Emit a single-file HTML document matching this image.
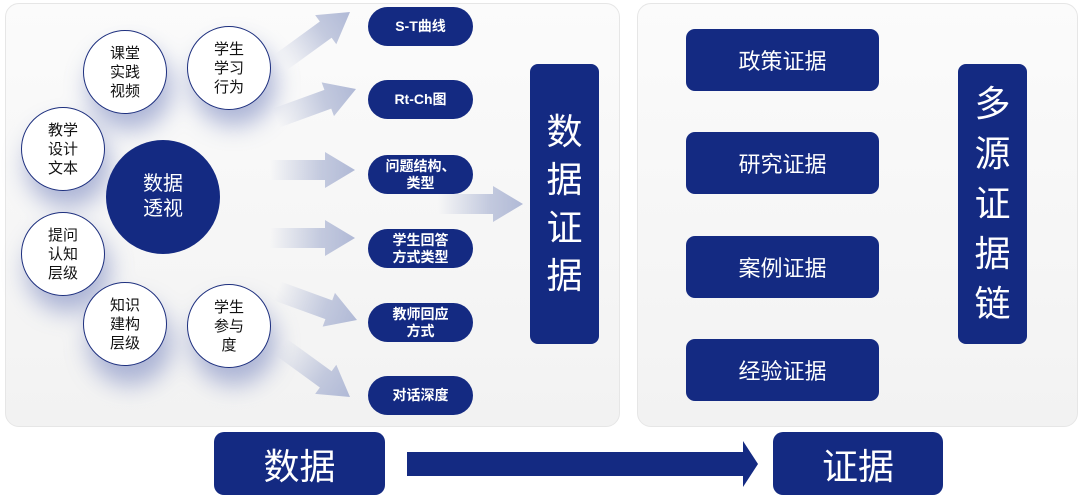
<!DOCTYPE html>
<html><head><meta charset="utf-8"><style>
body{margin:0;width:1080px;height:498px;background:#fff;position:relative;overflow:hidden;font-family:"Liberation Sans","Noto Sans CJK SC",sans-serif}
.panel{position:absolute;background:linear-gradient(#fbfbfb,#f2f2f2);border:1px solid #e6e6e6;border-radius:14px}
.n{position:absolute;background:#142a82;color:#fff;display:flex;align-items:center;justify-content:center;text-align:center;box-sizing:border-box}
.pill{left:368px;width:105px;height:39px;border-radius:20px;font-size:14px;line-height:17px;font-weight:bold}
.c{position:absolute;width:84px;height:84px;border-radius:50%;background:#fff;border:1.5px solid #1d2f7e;box-sizing:border-box;display:flex;align-items:center;justify-content:center;text-align:center;font-size:15px;line-height:19px;color:#111}
.rb{left:686px;width:193px;height:62px;border-radius:9px;font-size:22px}
</style></head><body>
<div class="panel" style="left:5px;top:3px;width:613px;height:422px"></div>
<div class="panel" style="left:637px;top:3px;width:439px;height:422px"></div>
<svg width="1080" height="498" style="position:absolute;left:0;top:0">
<defs>
<linearGradient id="g" x1="0" x2="1"><stop offset="0" stop-color="#b6bed8" stop-opacity="0"/><stop offset="0.6" stop-color="#b6bed8" stop-opacity="0.8"/><stop offset="1" stop-color="#b0b9d6"/></linearGradient>
<g id="a"><polygon points="-85,-10 -30,-10 -30,-18 0,0 -30,18 -30,10 -85,10" fill="url(#g)"/></g>
<filter id="b"><feGaussianBlur stdDeviation="12"/></filter>
</defs>
<g filter="url(#b)" fill="#8c98c8" opacity="0.7">
<circle cx="130" cy="88" r="42"/><circle cx="234" cy="84" r="42"/><circle cx="68" cy="165" r="42"/>
<circle cx="68" cy="270" r="42"/><circle cx="130" cy="343" r="42"/><circle cx="234" cy="343" r="42"/>
</g>
<use href="#a" transform="translate(350,12) rotate(-36)"/>
<use href="#a" transform="translate(356,89) rotate(-20)"/>
<use href="#a" transform="translate(355,170)"/>
<use href="#a" transform="translate(355,238)"/>
<use href="#a" transform="translate(357,320) rotate(20)"/>
<use href="#a" transform="translate(350,397) rotate(36)"/>
<use href="#a" transform="translate(523,204)"/>
<polygon points="407,452 743,452 743,441 758,464 743,487 743,476 407,476" fill="#142a82"/>
</svg>
<div class="n" style="left:106px;top:140px;width:114px;height:114px;border-radius:50%;font-size:20px;line-height:25px">数据<br>透视</div>
<div class="c" style="left:83px;top:30px">课堂<br>实践<br>视频</div>
<div class="c" style="left:187px;top:26px">学生<br>学习<br>行为</div>
<div class="c" style="left:21px;top:107px">教学<br>设计<br>文本</div>
<div class="c" style="left:21px;top:212px">提问<br>认知<br>层级</div>
<div class="c" style="left:83px;top:282px">知识<br>建构<br>层级</div>
<div class="c" style="left:187px;top:284px">学生<br>参与<br>度</div>
<div class="n pill" style="top:7px">S-T曲线</div>
<div class="n pill" style="top:80px">Rt-Ch图</div>
<div class="n pill" style="top:155px">问题结构、<br>类型</div>
<div class="n pill" style="top:229px">学生回答<br>方式类型</div>
<div class="n pill" style="top:303px">教师回应<br>方式</div>
<div class="n pill" style="top:376px">对话深度</div>
<div class="n" style="left:530px;top:64px;width:69px;height:280px;border-radius:8px;font-size:36px;line-height:48px">数<br>据<br>证<br>据</div>
<div class="n rb" style="top:29px">政策证据</div>
<div class="n rb" style="top:132px">研究证据</div>
<div class="n rb" style="top:236px">案例证据</div>
<div class="n rb" style="top:339px">经验证据</div>
<div class="n" style="left:958px;top:64px;width:69px;height:280px;border-radius:8px;font-size:36px;line-height:50px">多<br>源<br>证<br>据<br>链</div>
<div class="n" style="left:214px;top:432px;width:171px;height:63px;border-radius:10px;font-size:36px">数据</div>
<div class="n" style="left:773px;top:432px;width:170px;height:63px;border-radius:10px;font-size:36px">证据</div>
</body></html>
